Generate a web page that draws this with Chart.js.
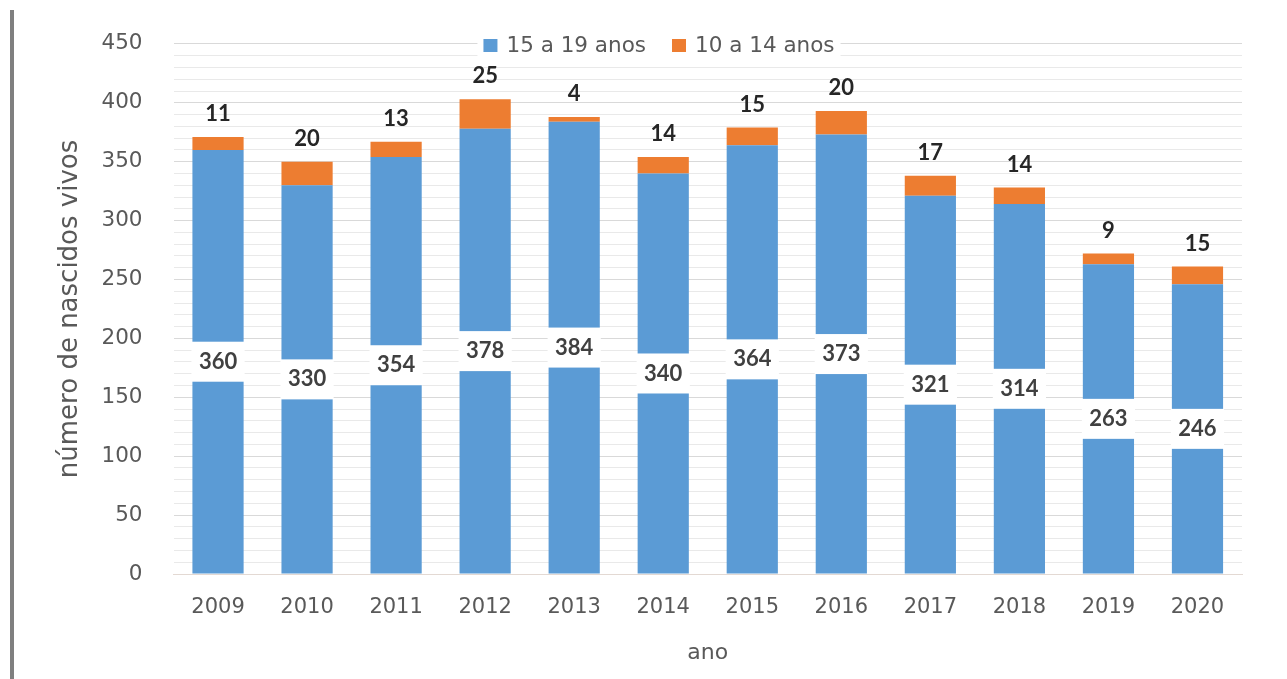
<!DOCTYPE html>
<html><head><meta charset="utf-8">
<script src="https://cdn.jsdelivr.net/npm/chart.js@4/dist/chart.umd.min.js"></script>
<style>
html,body{margin:0;padding:0;background:#fff;overflow:hidden;}
#wrap{position:relative;width:1287px;height:679px;}
#edge{position:absolute;left:10px;top:10px;width:4px;height:669px;background:#7f7f7f;}
canvas{position:absolute;left:0;top:0;}
</style></head><body>
<div id="wrap"><canvas id="c" width="1287" height="679"></canvas><div id="edge"></div></div>
<script>
const years = ['2009','2010','2011','2012','2013','2014','2015','2016','2017','2018','2019','2020'];
const age15to19 = [360,330,354,378,384,340,364,373,321,314,263,246];
const age10to14 = [11,20,13,25,4,14,15,20,17,14,9,15];
const seriesNames = ['15 a 19 anos','10 a 14 anos'];
const yAxisTitle = 'número de nascidos vivos';
const xAxisTitle = 'ano';
const yMax = 450, yMinorStep = 10, yLabelStep = 50;

const FONT = '"DejaVu Sans", Verdana, sans-serif';
const BOLD = 'Lato, "Open Sans", sans-serif';
const BLUE = '#5B9BD5', ORANGE = '#ED7D31', GREY = '#595959';

const labelPlugin = {
  id: 'labels',
  afterDatasetsDraw(chart) {
    const ctx = chart.ctx;
    ctx.save();
    ctx.textAlign = 'center';
    ctx.textBaseline = 'middle';
    const m0 = chart.getDatasetMeta(0);
    m0.data.forEach((bar, i) => {
      const p = bar.getProps(['x','y','base','width'], true);
      const cy = (p.y + p.base) / 2;
      ctx.fillStyle = '#ffffff';
      ctx.fillRect(p.x - p.width/2 - 1, cy - 20, p.width + 2, 40);
      ctx.fillStyle = '#404040';
      ctx.font = 'bold 22px ' + BOLD;
      ctx.fillText(String(chart.data.datasets[0].data[i]), p.x, cy);
    });
    const m1 = chart.getDatasetMeta(1);
    m1.data.forEach((bar, i) => {
      const p = bar.getProps(['x','y'], true);
      ctx.fillStyle = '#262626';
      ctx.font = 'bold 22px ' + BOLD;
      ctx.fillText(String(chart.data.datasets[1].data[i]), p.x, p.y - 23);
    });
    // legend
    ctx.font = '21.5px ' + FONT;
    ctx.textAlign = 'left';
    const box = 14, gap = 9, itemGap = 26;
    const widths = chart.data.datasets.map(d => ctx.measureText(d.label).width);
    const total = widths.reduce((a,w)=>a+box+gap+w,0) + itemGap*(widths.length-1);
    let x = 659 - total/2;
    const yc = 45;
    ctx.fillStyle = '#ffffff';
    ctx.fillRect(x - 6, yc - 13, total + 12, 26);
    chart.data.datasets.forEach((d, i) => {
      ctx.fillStyle = d.backgroundColor;
      ctx.fillRect(x, yc - 6, box, 13);
      x += box + gap;
      ctx.fillStyle = GREY;
      ctx.fillText(d.label, x, yc + 1);
      x += widths[i] + itemGap;
    });
    ctx.restore();
  }
};

new Chart(document.getElementById('c'), {
  type: 'bar',
  data: {
    labels: years,
    datasets: [
      { label: seriesNames[0], data: age15to19, backgroundColor: BLUE, borderWidth: 0 },
      { label: seriesNames[1], data: age10to14, backgroundColor: ORANGE, borderWidth: 0 }
    ]
  },
  options: {
    responsive: false,
    animation: false,
    devicePixelRatio: 1,
    layout: { padding: { left: 50, right: 45, top: 40, bottom: 8 } },
    plugins: { legend: { display: false }, tooltip: { enabled: false } },
    datasets: { bar: { barPercentage: 0.575, categoryPercentage: 1 } },
    scales: {
      x: {
        stacked: true,
        grid: { display: false, drawTicks: false },
        border: { display: true, color: '#e3d9d3' },
        ticks: { color: GREY, font: { family: FONT, size: 21 }, padding: 21 },
        title: { display: true, text: xAxisTitle, color: GREY, font: { family: FONT, size: 22 }, padding: { top: 4, bottom: 5 } },
        afterFit(s) { s.height = 97; }
      },
      y: {
        stacked: true,
        min: 0, max: yMax,
        grid: {
          drawTicks: false,
          color: c => (c.tick && c.tick.value % yLabelStep === 0) ? '#d9d9d9' : '#e9e9e9'
        },
        border: { display: false },
        ticks: {
          stepSize: yMinorStep, autoSkip: false, padding: 31,
          color: GREY, font: { family: FONT, size: 21.5 },
          callback: v => (v % yLabelStep === 0 ? String(v) : '')
        },
        title: { display: true, text: yAxisTitle, color: GREY, font: { family: FONT, size: 26 }, padding: { top: 5, bottom: 4 } },
        afterFit(s) { s.width = 123.5; }
      }
    }
  },
  plugins: [labelPlugin]
});
</script>
</body></html>
